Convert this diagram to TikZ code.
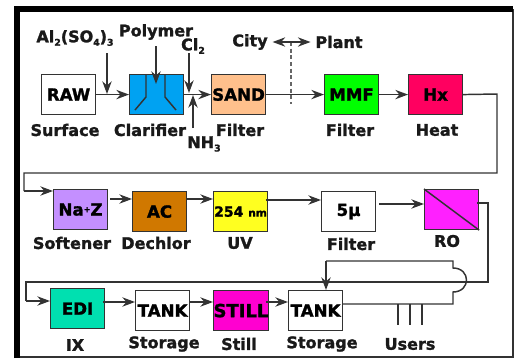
\documentclass[tikz,border=0pt]{standalone}
\usepackage{fontspec}
\setmainfont{DejaVu Sans}[BoldFeatures={FakeBold=1.5}]
\usetikzlibrary{arrows.meta,calc}
\newcommand{\dn}[1]{\raisebox{-2.6pt}{\fontsize{7}{8}\selectfont\bfseries #1}}
\tikzset{
  boxn/.style={draw=black!80,line width=0.85pt,minimum width=40.5pt,minimum height=30pt,inner sep=0pt,anchor=north west,font=\fontsize{12.5}{14}\selectfont\bfseries,text=black},
  lab/.style={inner sep=0pt,font=\fontsize{12}{14}\selectfont\bfseries,text=black!90},
  pipe/.style={draw=black!80,line width=1.1pt},
  flow/.style={pipe,-{Stealth[length=9.5pt,width=7pt]}},
  frameheavy/.style={draw=black,line width=4.6pt},
  framelight/.style={draw=black!80,line width=1pt}
}
\definecolor{cclar}{HTML}{00A2F2}
\definecolor{csand}{HTML}{FFC08C}
\definecolor{cmmf}{HTML}{00FF00}
\definecolor{chx}{HTML}{FF0060}
\definecolor{cna}{HTML}{C48FFF}
\definecolor{cac}{HTML}{D07800}
\definecolor{cuv}{HTML}{FFFF20}
\definecolor{cro}{HTML}{FF20FF}
\definecolor{cedi}{HTML}{00E0B0}
\definecolor{cstill}{HTML}{FF00D0}
\begin{document}
\begin{tikzpicture}[x=0.75pt,y=-0.75pt]
\useasboundingbox (0,0) rectangle (515,358);
\fill[white] (0,0) rectangle (515,358);
% frame
\draw[framelight] (17,357) -- (513,357) -- (513,9);
\draw[frameheavy] (17,358) -- (17,9) -- (513,9);
% boxes
\node[boxn] (raw) at (41,74) {\raisebox{-1.5pt}{RAW}};
\node[boxn,fill=cclar] (clar) at (129,74) {};
\node[boxn,fill=csand] (sand) at (211,74) {\raisebox{-1.5pt}{SAND}};
\node[boxn,fill=cmmf] (mmf) at (324,74) {\raisebox{-1.5pt}{MMF}};
\node[boxn,fill=chx] (hx) at (408,74) {\raisebox{-1.5pt}{Hx}};
\node[boxn,fill=cna] (na) at (53,189) {Na\raisebox{2.5pt}{\fontsize{6}{7}\selectfont+}Z};
\node[boxn,fill=cac] (ac) at (132,191) {AC};
\node[boxn,fill=cuv] (uv) at (213,191) {\fontsize{10.5}{12}\selectfont 254 \fontsize{8}{10}\selectfont nm};
\node[boxn] (five) at (321,191) {5µ};
\node[boxn,fill=cro] (ro) at (424,189) {};
\node[boxn,fill=cedi] (edi) at (50,288) {EDI};
\node[boxn] (tanka) at (135,290) {\raisebox{-3pt}{TANK}};
\node[boxn,fill=cstill] (still) at (213,290) {\raisebox{-3pt}{\fontsize{13.5}{14}\selectfont STILL}};
\node[boxn] (tankb) at (288,290) {\raisebox{-3pt}{TANK}};
% clarifier and RO internals
\draw[pipe] (146,74) -- (146,97) -- (135,110);
\draw[pipe] (165,74) -- (165,97) -- (176,110);
\draw[pipe] (ro.north west) -- (ro.south east);
% text labels
\node[lab] (lalum) at (75,38) {Al\dn{2}(SO\dn{4})\dn{3}};
\node[lab] (lpoly) at (156,32) {Polymer};
\node[lab] (lcl) at (193,46) {Cl\dn{2}};
\node[lab] (lnh) at (204,144) {NH\dn{3}};
\node[lab] (lcity) at (250,42) {City};
\node[lab] (lplant) at (339,42) {Plant};
\node[lab] at (65,130) {Surface};
\node[lab] at (150,130) {Clarifier};
\node[lab] at (240,130) {Filter};
\node[lab] at (350,130) {Filter};
\node[lab] at (437,130) {Heat};
\node[lab] at (72,243) {Softener};
\node[lab] at (156,243) {Dechlor};
\node[lab] at (240,243) {UV};
\node[lab] at (351,244) {Filter};
\node[lab] at (447,241) {RO};
\node[lab] at (75,345) {IX};
\node[lab] at (164,344) {Storage};
\node[lab] at (239,344) {Still};
\node[lab] at (322,344) {Storage};
\node[lab] (lusers) at (410,344) {Users};
% row 1 connectors
\draw[flow] (raw.east) -- (clar.west);
\coordinate (alstart) at (107,53);
\coordinate (aljoin) at (107,94);
\draw[flow] (alstart) -- (aljoin);
\coordinate (polystart) at (156,46);
\coordinate (polyend) at (156,84);
\draw[flow] (polystart) -- (polyend);
\draw[flow] (clar.east) -- (sand.west);
\coordinate (clstart) at (189,53);
\coordinate (cljoin) at (189,93);
\draw[flow] (clstart) -- (cljoin);
\coordinate (nhstart) at (193,128);
\coordinate (nhjoin) at (193,95);
\draw[flow] (nhstart) -- (nhjoin);
\draw[flow] (sand.east) -- (mmf.west);
\coordinate (citybr) at (291,42);
\coordinate (cityin) at (291,104);
\draw[pipe,draw=black!60,line width=1.5pt,dash pattern=on 3pt off 2pt] (citybr) -- (cityin);
\draw[flow,shorten >=3.5pt] (citybr) -- (lcity.east);
\draw[flow,shorten >=3.5pt] (citybr) -- (lplant.west);
\draw[flow] (mmf.east) -- (hx.west);
% to row 2
\coordinate (wa) at (497,94);
\coordinate (wb) at (497,173);
\coordinate (wc) at (24,173);
\coordinate (wd) at (24,191);
\draw[pipe] (hx.east) -- (wa) -- (wb) -- (wc) -- (wd);
\draw[flow] (wd) -- (wd -| na.west);
% row 2
\coordinate (r2a) at (110,199);
\draw[flow] (r2a) -- (r2a -| ac.west);
\coordinate (r2b) at (186,199);
\draw[flow] (r2b) -- (r2b -| uv.west);
\coordinate (r2c) at (266,200);
\draw[flow] (r2c) -- (r2c -| five.west);
\coordinate (r2d) at (379,204);
\draw[flow] (r2d) -- (r2d -| ro.west);
% to row 3
\coordinate (xa) at (477,203);
\coordinate (xb) at (488,203);
\coordinate (xc) at (488,282);
\coordinate (xd) at (26,282);
\coordinate (xe) at (26,301);
\draw[pipe] (xa) -- (xb) -- (xc) -- (xd) -- (xe);
\draw[flow] (xe) -- (xe -| edi.west);
% row 3
\coordinate (r3a) at (103,302);
\draw[flow] (r3a) -- (r3a -| tanka.west);
\coordinate (r3b) at (189,302);
\draw[flow] (r3b) -- (r3b -| still.west);
\coordinate (r3c) at (266,302);
\draw[flow] (r3c) -- (r3c -| tankb.west);
% recirculation loop with hop
\coordinate (la) at (342,304);
\coordinate (lb) at (453,304);
\coordinate (lc) at (453,292);
\coordinate (ld) at (453,268);
\coordinate (le) at (453,261);
\coordinate (lf) at (326,261);
\draw[pipe] (la) -- (lb) -- (lc) .. controls (471,292) and (471,268) .. (ld) -- (le) -- (lf);
\draw[flow] (lf) -- (lf |- tankb.north);
% users
\foreach \ux/\un in {398/ua,410/ub,422/uc}{
  \coordinate (\un) at (\ux,304);
  \draw[pipe] (\un) -- ++(0,21);
}
\end{tikzpicture}
\end{document}
